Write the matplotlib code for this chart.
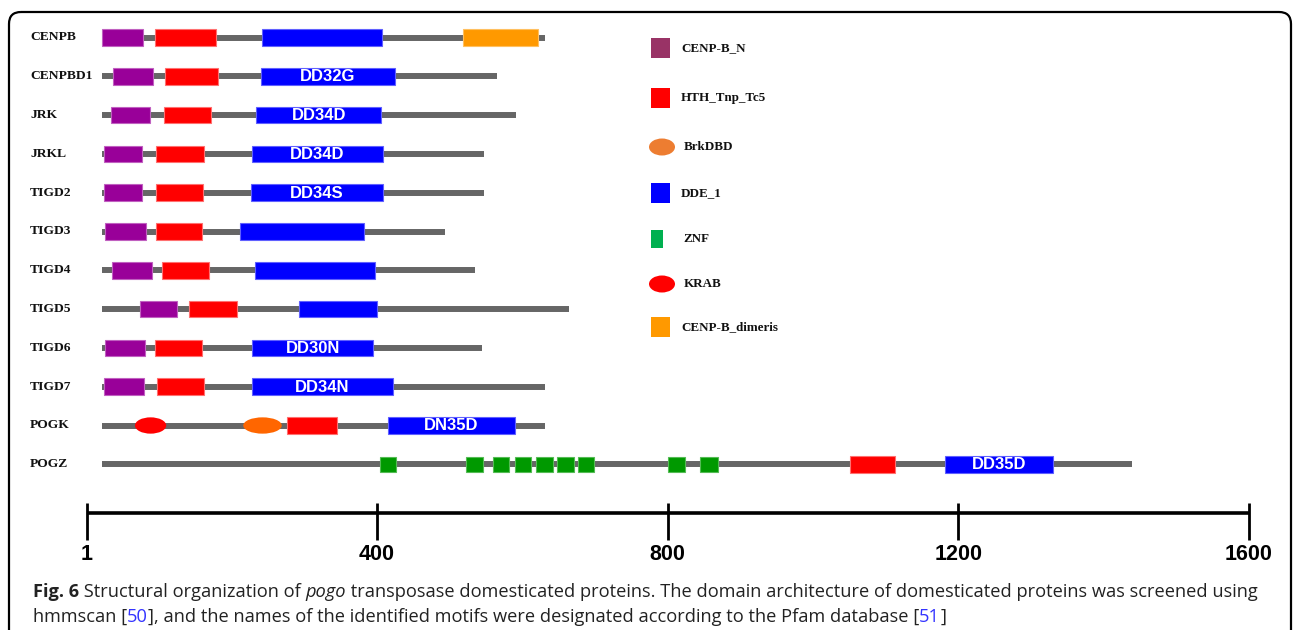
import matplotlib
matplotlib.use('Agg')
import matplotlib.pyplot as plt
from matplotlib.patches import Rectangle, Ellipse, FancyBboxPatch
from matplotlib.transforms import blended_transform_factory

# protein names, top to bottom
names = ['CENPB', 'CENPBD1', 'JRK', 'JRKL', 'TIGD2', 'TIGD3',
         'TIGD4', 'TIGD5', 'TIGD6', 'TIGD7', 'POGK', 'POGZ']
seq_start = 22
seq_end = [631, 565, 591, 547, 547, 494, 535, 664, 545, 631, 631, 1439]

# domain positions (aa)
cenp_b_n = {'CENPB': (22, 78), 'CENPBD1': (37, 92), 'JRK': (34, 88), 'JRKL': (24, 77),
            'TIGD2': (24, 77), 'TIGD3': (26, 82), 'TIGD4': (35, 90), 'TIGD5': (74, 125),
            'TIGD6': (26, 81), 'TIGD7': (24, 80)}
hth_tnp_tc5 = {'CENPB': (95, 178), 'CENPBD1': (108, 181), 'JRK': (107, 172), 'JRKL': (96, 162),
               'TIGD2': (96, 161), 'TIGD3': (96, 159), 'TIGD4': (104, 169), 'TIGD5': (141, 207),
               'TIGD6': (95, 159), 'TIGD7': (97, 162), 'POGK': (276, 345), 'POGZ': (1051, 1113)}
dde_1 = {'CENPB': (242, 407), 'CENPBD1': (240, 425), 'JRK': (234, 406), 'JRKL': (228, 408),
         'TIGD2': (227, 408), 'TIGD3': (212, 382), 'TIGD4': (232, 397), 'TIGD5': (293, 400),
         'TIGD6': (228, 395), 'TIGD7': (228, 422), 'POGK': (415, 590), 'POGZ': (1182, 1330)}
dde_labels = {'CENPBD1': 'DD32G', 'JRK': 'DD34D', 'JRKL': 'DD34D', 'TIGD2': 'DD34S',
              'TIGD6': 'DD30N', 'TIGD7': 'DD34N', 'POGK': 'DN35D', 'POGZ': 'DD35D'}
cenp_b_dimeris = {'CENPB': (518, 622)}
krab = {'POGK': (67, 110)}
brkdbd = {'POGK': (216, 269)}
znf = {'POGZ': [(404, 426), (523, 546), (560, 582), (590, 612), (619, 642),
                (648, 671), (676, 699), (800, 824), (844, 869)]}

scale_ticks = [1, 400, 800, 1200, 1600]

legend_names = ['CENP-B_N', 'HTH_Tnp_Tc5', 'BrkDBD', 'DDE_1', 'ZNF', 'KRAB', 'CENP-B_dimeris']
legend_colors = ['#993366', '#FF0000', '#ED7D31', '#0000FF', '#00B050', '#FF0000', '#FF9900']
legend_shapes = ['rect', 'rect', 'ellipse', 'rect', 'narrow', 'ellipse', 'rect']

caption1 = [('Fig. 6', 'bold', 'normal', '#222222'),
            (' Structural organization of ', 'normal', 'normal', '#222222'),
            ('pogo', 'normal', 'italic', '#222222'),
            (' transposase domesticated proteins. The domain architecture of domesticated proteins was screened using',
             'normal', 'normal', '#222222')]
caption2 = [('hmmscan [', 'normal', 'normal', '#222222'),
            ('50', 'normal', 'normal', '#3333FF'),
            ('], and the names of the identified motifs were designated according to the Pfam database [',
             'normal', 'normal', '#222222'),
            ('51', 'normal', 'normal', '#3333FF'),
            (']', 'normal', 'normal', '#222222')]

W, H = 1293, 630
fig = plt.figure(figsize=(W / 100, H / 100), dpi=100)

# main axes: x in aa, y in row index
px_per_aa = 0.7267
x_px0 = 87
row0, row_step = 37.5, 38.8
ax = fig.add_axes([0, 0, 1, 1])
ax.set_xlim((0 - x_px0) / px_per_aa + 1, (W - x_px0) / px_per_aa + 1)
ax.set_ylim((H - row0) / row_step, -row0 / row_step)
ax.axis('off')

# overlay in pixel coords for frame, names, legend and caption
ov = fig.add_axes([0, 0, 1, 1])
ov.set_xlim(0, W)
ov.set_ylim(H, 0)
ov.axis('off')
ov.patch.set_visible(False)

box_h = 0.43
for i, name in enumerate(names):
    ax.plot([seq_start, seq_end[i]], [i, i], color='#666666', lw=4.3,
            solid_capstyle='butt', zorder=1)
    for dom, fc, ec in [(cenp_b_n, '#990099', '#C060C0'),
                        (hth_tnp_tc5, '#FF0000', '#FF7070'),
                        (dde_1, '#0000FF', '#6060FF'),
                        (cenp_b_dimeris, '#FF9900', '#FFC060')]:
        if name in dom:
            s, e = dom[name]
            ax.add_patch(Rectangle((s, i - box_h / 2), e - s, box_h, facecolor=fc,
                                   edgecolor=ec, lw=0.8, zorder=2))
    if name in dde_labels:
        s, e = dde_1[name]
        ax.text((s + e) / 2, i + 0.01, dde_labels[name], color='white', fontsize=12,
                fontweight='bold', family='Liberation Sans', ha='center', va='center', zorder=3)
    for dom, fc in [(krab, '#FF0000'), (brkdbd, '#FF6600')]:
        if name in dom:
            s, e = dom[name]
            ax.add_patch(Ellipse(((s + e) / 2, i), e - s, 0.42, facecolor=fc,
                                 edgecolor='none', zorder=2))
    for s, e in znf.get(name, []):
        ax.add_patch(Rectangle((s, i - 0.2), e - s, 0.4, facecolor='#009900',
                               edgecolor='#55BB55', lw=0.8, zorder=2))

# protein names
name_tr = blended_transform_factory(ov.transData, ax.transData)
for i, name in enumerate(names):
    ax.text(30, i, name, transform=name_tr, fontsize=9.7, fontweight='bold',
            family='Liberation Serif', ha='left', va='center', color='#111111')

# scale bar
bar_y = (513 - row0) / row_step
ax.plot([scale_ticks[0], scale_ticks[-1]], [bar_y, bar_y], color='black', lw=2.6,
        solid_capstyle='butt', zorder=2)
ax.vlines(scale_ticks, (503 - row0) / row_step, (540 - row0) / row_step, color='black', lw=2)
for t in scale_ticks:
    ax.text(t, (555 - row0) / row_step, str(t), fontsize=15.5, fontweight='bold',
            family='Liberation Sans', ha='center', va='center')

# legend
leg_y = [48, 98, 147, 193, 239, 284, 327]
for n, c, shp, y in zip(legend_names, legend_colors, legend_shapes, leg_y):
    if shp == 'rect':
        ov.add_patch(Rectangle((651, y - 10), 19, 20, facecolor=c, edgecolor='none'))
        tx = 681
    elif shp == 'narrow':
        ov.add_patch(Rectangle((651, y - 9), 12, 18, facecolor=c, edgecolor='none'))
        tx = 683
    else:
        ov.add_patch(Ellipse((662, y), 26, 17, facecolor=c, edgecolor='none'))
        tx = 684
    ov.text(tx, y, n, fontsize=9.4, fontweight='bold', family='Liberation Serif',
            ha='left', va='center', color='#111111')

# frame
ov.add_patch(FancyBboxPatch((9, 12), 1282, 700, boxstyle='round,pad=0,rounding_size=12',
                            facecolor='none', edgecolor='black', lw=1.6))

# caption, laid out piece by piece
renderer = fig.canvas.get_renderer()
cap_font = 'Open Sans'


def piece_width(txt, size, weight, style):
    a = ov.text(0, 0, '|' + txt + '|', fontsize=size, fontweight=weight, fontstyle=style, family=cap_font)
    b = ov.text(0, 0, '||', fontsize=size, fontweight=weight, fontstyle=style, family=cap_font)
    w = a.get_window_extent(renderer).width - b.get_window_extent(renderer).width
    a.remove()
    b.remove()
    return w


base = 10
w1 = sum(piece_width(t, base, wt, st) for t, wt, st, c in caption1)
cap_size = base * 1230 / w1
for pieces, y in [(caption1, 597), (caption2, 622)]:
    x = 33
    for t, wt, st, c in pieces:
        ov.text(x, y, t, fontsize=cap_size, fontweight=wt, fontstyle=st, family=cap_font,
                color=c, ha='left', va='baseline')
        x += piece_width(t, cap_size, wt, st)

fig.savefig('out.png', dpi=100)
